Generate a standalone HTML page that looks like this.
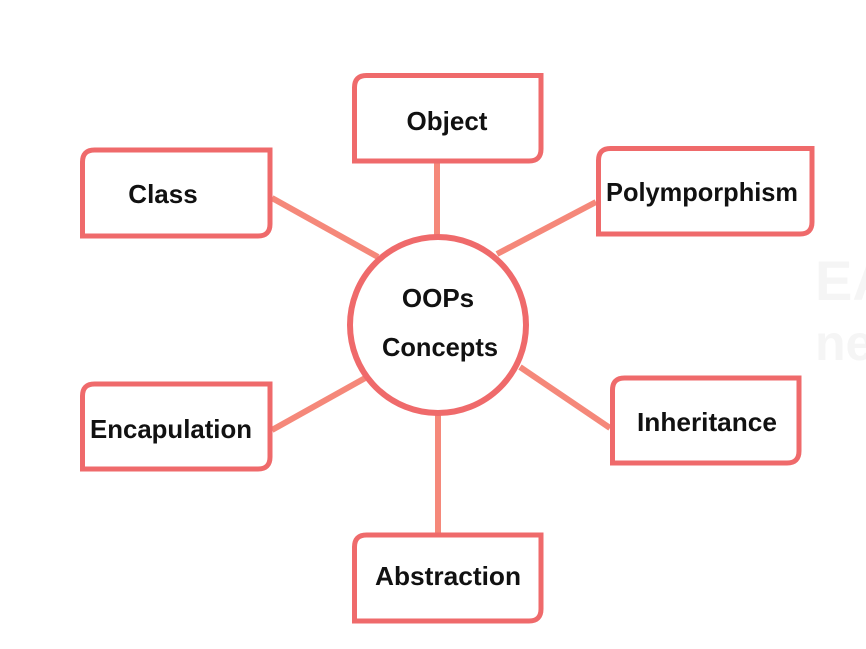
<!DOCTYPE html>
<html><head><meta charset="utf-8"><style>
html,body{margin:0;padding:0;background:#fff;}
svg{display:block}
text{font-family:"Liberation Sans","DejaVu Sans",sans-serif;font-weight:bold;font-size:26px;fill:#111;}
</style></head><body>
<svg width="866" height="649" viewBox="0 0 866 649" xmlns="http://www.w3.org/2000/svg">
<text x="815" y="300" style="font-size:56px;fill:#f5f5f5">EA</text>
<text x="815" y="360" style="font-size:50px;fill:#f5f5f5">ne</text>
<g stroke="#f5887a" stroke-width="6" fill="none">
<line x1="437" y1="161" x2="437" y2="238"/>
<line x1="272" y1="198" x2="378" y2="257"/>
<line x1="596" y1="202" x2="497" y2="254"/>
<line x1="272" y1="430" x2="367" y2="377"/>
<line x1="610" y1="428" x2="520" y2="367"/>
<line x1="438" y1="413" x2="438" y2="533"/>
</g>
<g stroke="#ef6a6b" stroke-width="5" fill="#fff">
<path d="M354.5 161 V87.5 Q354.5 75.5 366.5 75.5 H541 V149 Q541 161 529 161 Z"/>
<path d="M82.5 236 V162 Q82.5 150 94.5 150 H270 V224 Q270 236 258 236 Z"/>
<path d="M598.5 234 V160.5 Q598.5 148.5 610.5 148.5 H812 V222 Q812 234 800 234 Z"/>
<path d="M82.5 469 V396 Q82.5 384 94.5 384 H270 V457 Q270 469 258 469 Z"/>
<path d="M612.5 463 V390 Q612.5 378 624.5 378 H799 V451 Q799 463 787 463 Z"/>
<path d="M354.5 621 V547 Q354.5 535 366.5 535 H541 V609 Q541 621 529 621 Z"/>
<circle cx="438" cy="325" r="88" stroke-width="6"/>
</g>
<g text-anchor="middle">
<text x="447" y="130">Object</text>
<text x="163" y="203">Class</text>
<text x="702" y="201" textLength="192" lengthAdjust="spacingAndGlyphs">Polymporphism</text>
<text x="171" y="438" textLength="162" lengthAdjust="spacingAndGlyphs">Encapulation</text>
<text x="707" y="431" textLength="140" lengthAdjust="spacingAndGlyphs">Inheritance</text>
<text x="448" y="585" textLength="146" lengthAdjust="spacingAndGlyphs">Abstraction</text>
<text x="438" y="307">OOPs</text>
<text x="440" y="356" textLength="116" lengthAdjust="spacingAndGlyphs">Concepts</text>
</g>
</svg>
</body></html>
